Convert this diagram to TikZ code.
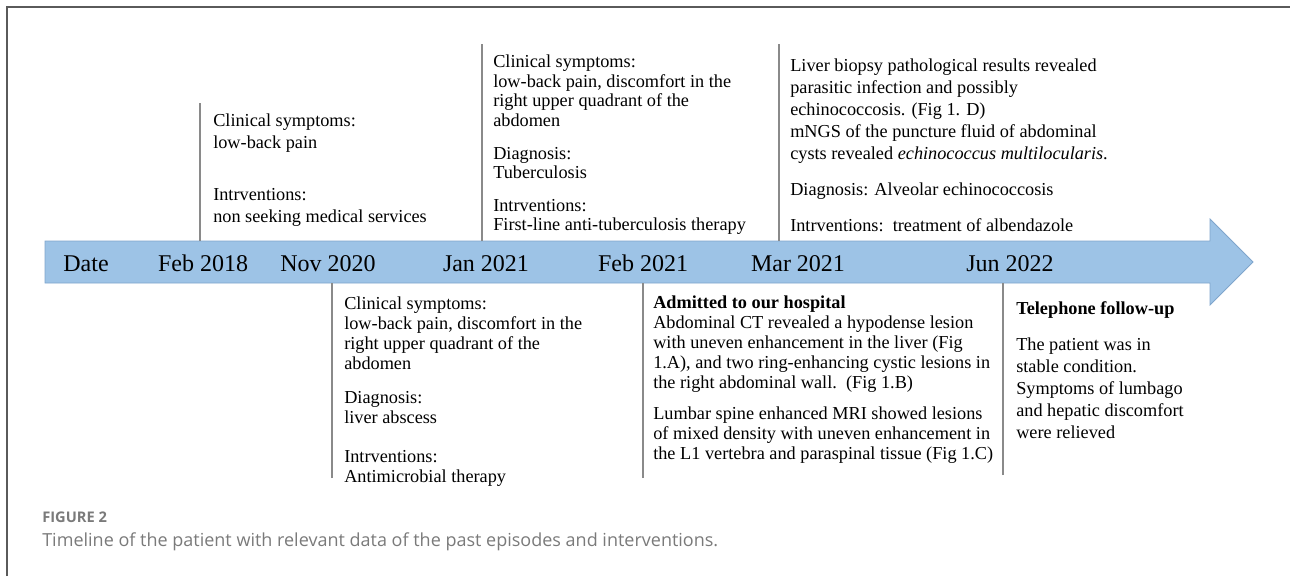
\documentclass[tikz,border=0pt]{standalone}
\usepackage{fontspec}
\setmainfont{Liberation Serif}
\newfontfamily\capfont{Open Sans}
\usepackage{xcolor}
\usetikzlibrary{calc}

\definecolor{barblue}{HTML}{9DC3E6}
\definecolor{barline}{HTML}{7FA5CC}
\definecolor{tickgray}{HTML}{8A8A8A}
\definecolor{framegray}{HTML}{5A5A5A}
\definecolor{capgray}{HTML}{7A7A7A}

\tikzset{
  datelbl/.style={anchor=base, inner sep=0pt, font=\fontsize{18}{20}\selectfont},
  evtext/.style={anchor=north west, inner sep=0pt, align=left},
  tickline/.style={draw=tickgray, line width=0.9pt},
}

\begin{document}
\begin{tikzpicture}[x=0.75pt,y=-0.75pt]
\useasboundingbox (0,0) rectangle (1290,576);

% =====================
% Frame
% =====================
\draw[framegray, line width=1.4pt] (7,576) -- (7,7) -- (1290,7);

% =====================
% Timeline arrow
% =====================
\coordinate (barTL) at (45,241);
\coordinate (barBL) at (45,283);
\draw[fill=barblue, draw=barline, line width=0.6pt]
    (barTL) -- (1210,241) -- (1210,219) -- (1253,262)
    -- (1210,305) -- (1210,283) -- (barBL) -- cycle;

% =====================
% Dates
% =====================
\node[datelbl] (date)  at (86,271)   {Date};
\node[datelbl] (feb18) at (203,271)  {Feb 2018};
\node[datelbl] (nov20) at (328,271)  {Nov 2020};
\node[datelbl] (jan21) at (486,271)  {Jan 2021};
\node[datelbl] (feb21) at (643,271)  {Feb 2021};
\node[datelbl] (mar21) at (798,271)  {Mar 2021};
\node[datelbl] (jun22) at (1010,271) {Jun 2022};

% =====================
% Events above the bar
% =====================
\node[evtext, font=\fontsize{13.7}{16.5}\selectfont] (evfeb18) at (213,114)
    {Clinical symptoms:\\
     low-back pain\\[22pt]
     Intrventions:\\
     non seeking medical services};

\node[evtext, font=\fontsize{13.7}{14.6}\selectfont] (evjan21) at (493,55)
    {Clinical symptoms:\\
     low-back pain, discomfort in the\\
     right upper quadrant of the\\
     abdomen\\[10pt]
     Diagnosis:\\
     Tuberculosis\\[10pt]
     Intrventions:\\
     First-line anti-tuberculosis therapy};

\node[evtext, font=\fontsize{13.7}{16.5}\selectfont] (evmar21) at (790,59)
    {Liver biopsy pathological results revealed\\
     parasitic infection and possibly\\
     echinococcosis. (Fig 1. D)\\
     mNGS of the puncture fluid of abdominal\\
     cysts revealed \textit{echinococcus multilocularis}.\\[10.5pt]
     Diagnosis: Alveolar echinococcosis\\[10pt]
     Intrventions:~~treatment of albendazole};

% =====================
% Events below the bar
% =====================
\node[evtext, font=\fontsize{13.7}{15}\selectfont] (evnov20) at (344,297)
    {Clinical symptoms:\\
     low-back pain, discomfort in the\\
     right upper quadrant of the\\
     abdomen\\[10.5pt]
     Diagnosis:\\
     liver abscess\\[14pt]
     Intrventions:\\
     Antimicrobial therapy};

\node[evtext, font=\fontsize{13.7}{15}\selectfont] (evfeb21) at (653,296)
    {\textbf{Admitted to our hospital}\\
     Abdominal CT revealed a hypodense lesion\\
     with uneven enhancement in the liver (Fig\\
     1.A), and two ring-enhancing cystic lesions in\\
     the right abdominal wall.~~(Fig 1.B)\\[8pt]
     Lumbar spine enhanced MRI showed lesions\\
     of mixed density with uneven enhancement in\\
     the L1 vertebra and paraspinal tissue (Fig 1.C)};

\node[evtext, font=\fontsize{13.7}{16.5}\selectfont] (evjun22) at (1016,301)
    {\textbf{Telephone follow-up}\\[11pt]
     The patient was in\\
     stable condition.\\
     Symptoms of lumbago\\
     and hepatic discomfort\\
     were relieved};

% =====================
% Ticks from the bar
% =====================
\coordinate (tfeb18) at (200,103);
\coordinate (tjan21) at (482,44);
\coordinate (tmar21) at (779,44);
\coordinate (tnov20) at (332,478);
\coordinate (tfeb21) at (643,478);
\coordinate (tjun22) at (1003,475);

\draw[tickline] (tfeb18) -- (tfeb18 |- barTL);
\draw[tickline] (tjan21) -- (tjan21 |- barTL);
\draw[tickline] (tmar21) -- (tmar21 |- barTL);
\draw[tickline] (tnov20) -- (tnov20 |- barBL);
\draw[tickline] (tfeb21) -- (tfeb21 |- barBL);
\draw[tickline] (tjun22) -- (tjun22 |- barBL);

% =====================
% Caption
% =====================
\node[anchor=west, inner sep=0pt, capgray, font=\capfont\bfseries\fontsize{11}{13}\selectfont]
    (figno) at (42,517) {FIGURE 2};
\node[anchor=west, inner sep=0pt, capgray, font=\capfont\fontsize{13.5}{15}\selectfont]
    (caption) at (42,542)
    {Timeline of the patient with relevant data of the past episodes and interventions.};

\end{tikzpicture}
\end{document}
